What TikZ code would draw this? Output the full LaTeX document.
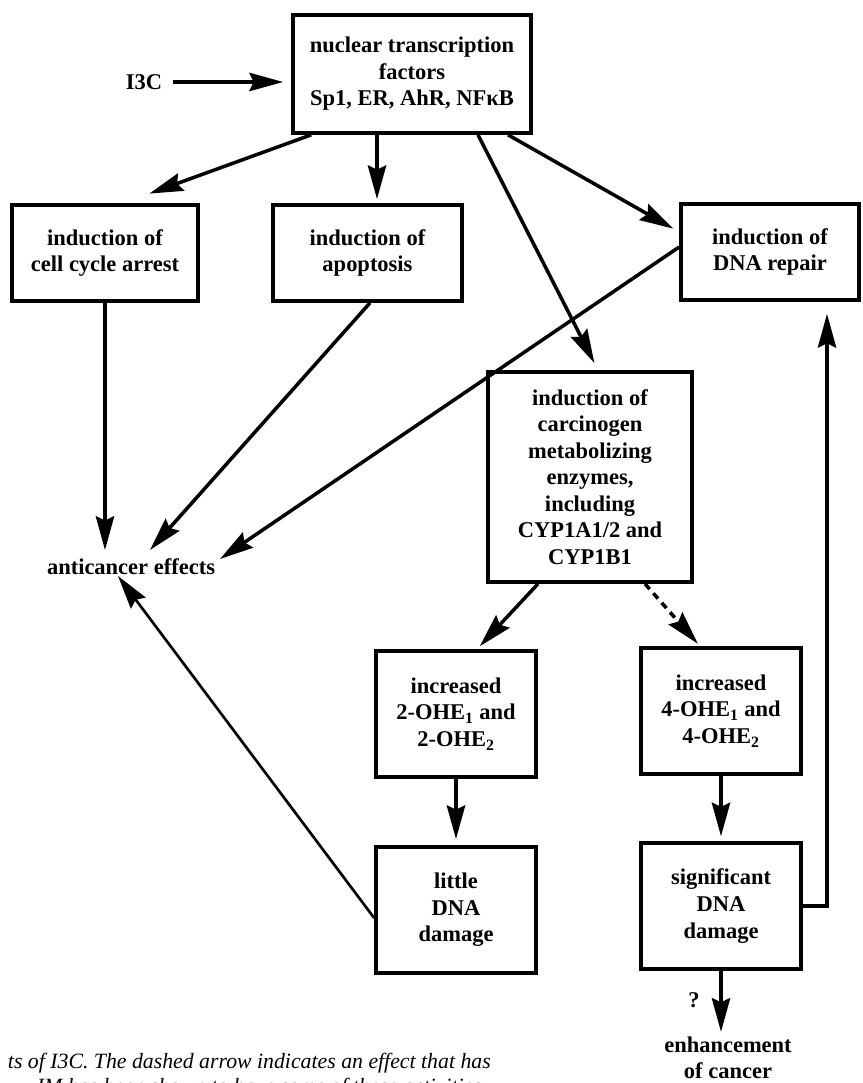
\documentclass[tikz,border=0pt]{standalone}
\usepackage{fontspec}
\setmainfont{Liberation Serif}
\usetikzlibrary{arrows.meta}
\pgfdeclarelayer{edgelayer}
\pgfdeclarelayer{nodelayer}
\pgfsetlayers{edgelayer,nodelayer,main}
\tikzstyle{box}=[rectangle,draw=black,line width=2.6pt,align=center,font=\bfseries\fontsize{16pt}{18.9pt}\selectfont]
\tikzstyle{plaintext}=[align=center,font=\bfseries\fontsize{16pt}{18.9pt}\selectfont]
\tikzstyle{caption}=[anchor=west,font=\itshape\fontsize{15.5pt}{18pt}\selectfont]
\tikzstyle{effect}=[-{Stealth[length=24pt,width=13pt,inset=3pt]},draw=black,line width=2.5pt]
\tikzstyle{weak effect}=[style=effect,line width=1.9pt]
\tikzstyle{possible effect}=[style=effect,dash pattern=on 5pt off 4pt]

\begin{document}
\begin{tikzpicture}
	\useasboundingbox (0, 0) rectangle (21.55, -27.075);
	\begin{pgfonlayer}{nodelayer}
		\node [style=plaintext] (0) at (3.6, -2.05) {I3C};
		\node [style=box, minimum width=5.95cm, minimum height=2.95cm] (1) at (10.3, -1.85) {nuclear transcription\\factors\\Sp1, ER, AhR, NFκB};
		\node [style=box, minimum width=4.65cm, minimum height=2.4cm] (2) at (2.625, -6.325) {induction of\\cell cycle arrest};
		\node [style=box, minimum width=4.725cm, minimum height=2.4cm] (3) at (9.1875, -6.325) {induction of\\apoptosis};
		\node [style=box, minimum width=4.45cm, minimum height=2.4cm] (4) at (19.25, -6.3) {induction of\\DNA repair};
		\node [style=box, minimum width=5.1cm, minimum height=5.25cm] (5) at (14.75, -11.925) {induction of\\carcinogen\\metabolizing\\enzymes,\\including\\CYP1A1/2 and\\CYP1B1};
		\node [style=plaintext] (6) at (3.275, -14.175) {anticancer effects};
		\node [style=box, minimum width=4cm, minimum height=3.15cm] (7) at (11.4, -17.85) {increased\\2-OHE\textsubscript{1} and\\2-OHE\textsubscript{2}};
		\node [style=box, minimum width=4cm, minimum height=3.15cm] (8) at (18.025, -17.775) {increased\\4-OHE\textsubscript{1} and\\4-OHE\textsubscript{2}};
		\node [style=box, minimum width=4cm, minimum height=3.15cm] (9) at (11.4, -22.75) {little\\DNA\\damage};
		\node [style=box, minimum width=4cm, minimum height=3.15cm] (10) at (18.025, -22.65) {significant\\DNA\\damage};
		\node [style=plaintext] (11) at (17.35, -25) {?};
		\node [style=plaintext] (12) at (18.2, -26.45) {enhancement\\of cancer};
		\node [style=caption] (13) at (0.075, -26.575) {ts of I3C. The dashed arrow indicates an effect that has};
		\node [style=caption] (14) at (0.8, -27.2) {IM has been shown to have some of these activities.};
	\end{pgfonlayer}
	\begin{pgfonlayer}{edgelayer}
		\draw [style=effect, shorten <=0.14cm, shorten >=0.2cm] (0.east) to (0.east -| 1.west);
		\draw [style=effect, shorten >=0.7cm] ([xshift=0.5cm]1.south west) to ([xshift=0.45cm]2.north);
		\draw [style=effect, shorten >=0.1cm] ([xshift=-0.875cm]1.south) to ([xshift=0.2375cm]3.north);
		\draw [style=effect, shorten >=0.2cm] ([xshift=1.65cm]1.south) to ([xshift=0.2cm]5.north);
		\draw [style=effect, shorten >=0.17cm] ([xshift=2.4cm]1.south) to ([yshift=0.5cm]4.west);
		\draw [style=effect] (2.south) to ([xshift=-0.65cm, yshift=0.1cm]6.north);
		\draw [style=effect] ([xshift=0.0625cm]3.south) to ([xshift=0.475cm, yshift=0.1cm]6.north);
		\draw [style=effect] ([yshift=0.125cm]4.west) to ([yshift=0.2cm]6.east);
		\draw [style=weak effect] ([yshift=-0.2cm]9.west) to ([xshift=-0.325cm, yshift=0.1cm]6.south);
		\draw [style=effect, shorten >=0.1cm] ([xshift=-1.3cm]5.south) to ([xshift=0.525cm]7.north);
		\draw [style=possible effect, shorten >=0.08cm] ([xshift=1.375cm]5.south) to ([xshift=-0.525cm]8.north);
		\draw [style=effect, shorten >=0.15cm] (7.south) to (9.north);
		\draw [style=effect, shorten >=0.12cm] (8.south) to (10.north);
		\draw [style=effect, shorten >=0.3cm] (10.east) -| ([xshift=1.425cm]4.south);
		\draw [style=effect] (10.south) to (10.south |- 12.north);
	\end{pgfonlayer}
\end{tikzpicture}
\end{document}
